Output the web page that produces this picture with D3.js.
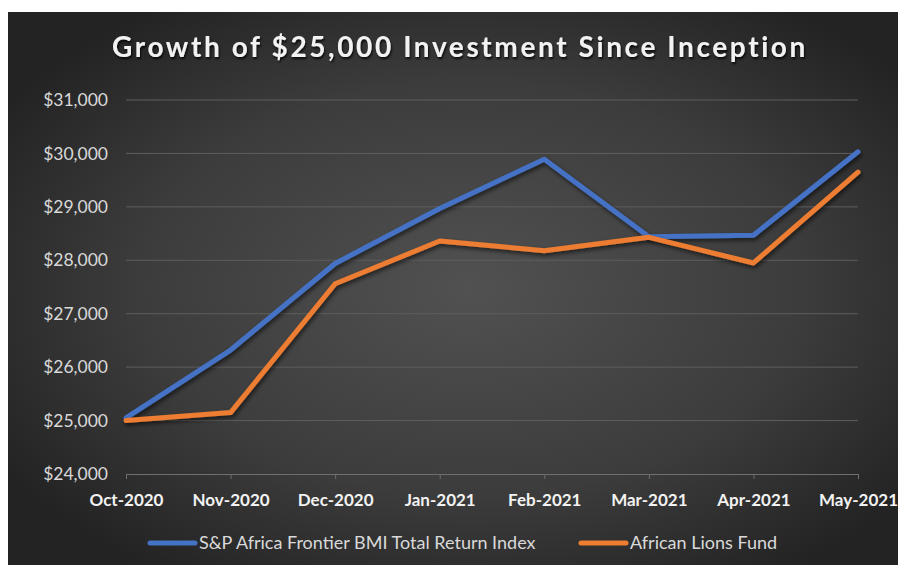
<!DOCTYPE html>
<html>
<head>
<meta charset="utf-8">
<script src="https://cdn.jsdelivr.net/npm/d3@7"></script>
<style>
  body { margin: 0; background: #fff; }
  text { font-family: Lato, "Open Sans", sans-serif; }
</style>
</head>
<body>
<div id="chart"></div>
<script>
const months = ["Oct-2020", "Nov-2020", "Dec-2020", "Jan-2021", "Feb-2021", "Mar-2021", "Apr-2021", "May-2021"];
const spAfrica = [25050, 26320, 27940, 28970, 29890, 28440, 28470, 30030];
const lionsFund = [25000, 25150, 27560, 28360, 28180, 28430, 27950, 29650];
const yTicks = [24000, 25000, 26000, 27000, 28000, 29000, 30000, 31000];
const seriesNames = ["S&P Africa Frontier BMI Total Return Index", "African Lions Fund"];
const colors = ["#4472c4", "#ed7d31"];

const W = 900, H = 567;
const svg = d3.select("#chart").append("svg")
    .attr("width", W)
    .attr("height", H);

const defs = svg.append("defs");
const grad = defs.append("radialGradient")
    .attr("id", "bg")
    .attr("cx", "52%").attr("cy", "50%").attr("r", "62%");
grad.append("stop").attr("offset", "0%").attr("stop-color", "#515151");
grad.append("stop").attr("offset", "60%").attr("stop-color", "#3c3c3c");
grad.append("stop").attr("offset", "100%").attr("stop-color", "#232323");

const shadow = defs.append("filter").attr("id", "shadow")
    .attr("x", "-10%").attr("y", "-10%").attr("width", "120%").attr("height", "130%");
shadow.append("feDropShadow")
    .attr("dx", 1.5).attr("dy", 2.5).attr("stdDeviation", 2)
    .attr("flood-color", "#000").attr("flood-opacity", 0.6);

const tshadow = defs.append("filter").attr("id", "tshadow");
tshadow.append("feDropShadow")
    .attr("dx", 1).attr("dy", 2).attr("stdDeviation", 1.2)
    .attr("flood-color", "#000").attr("flood-opacity", 0.8);

// panel
svg.append("rect")
    .attr("x", 8).attr("y", 12)
    .attr("width", 890).attr("height", 553)
    .attr("fill", "url(#bg)");

const x = d3.scalePoint()
    .domain(months)
    .range([126, 858]);

const y = d3.scaleLinear()
    .domain([24000, 31000])
    .range([474, 100]);

// gridlines
svg.append("g").selectAll("line")
    .data(yTicks.slice(1))
    .join("line")
    .attr("x1", 126).attr("x2", 858)
    .attr("y1", d => y(d)).attr("y2", d => y(d))
    .attr("stroke", "#5e5e5e")
    .attr("stroke-width", 1);

// y axis labels
svg.append("g").selectAll("text")
    .data(yTicks)
    .join("text")
    .attr("x", 108)
    .attr("y", d => y(d))
    .attr("dy", "0.35em")
    .attr("text-anchor", "end")
    .attr("fill", "#d9d9d9")
    .attr("font-size", 17.5)
    .text(d => "$" + d3.format(",")(d));

// x axis
const xAxis = svg.append("g")
    .attr("transform", `translate(0,${y(24000)})`)
    .call(d3.axisBottom(x).tickSize(5).tickPadding(15));
xAxis.select(".domain").attr("stroke", "#6f6f6f");
xAxis.selectAll(".tick line").attr("stroke", "#6f6f6f");
xAxis.selectAll(".tick text")
    .attr("fill", "#f2f2f2")
    .attr("font-size", 17)
    .attr("font-weight", "bold")
    .attr("font-family", "Lato, sans-serif");

// lines
const line = d3.line()
    .x((d, i) => x(months[i]))
    .y(d => y(d));

[spAfrica, lionsFund].forEach((vals, i) => {
  svg.append("path")
    .datum(vals)
    .attr("d", line)
    .attr("fill", "none")
    .attr("stroke", colors[i])
    .attr("stroke-width", 5)
    .attr("stroke-linejoin", "round")
    .attr("stroke-linecap", "round")
    .attr("filter", "url(#shadow)");
});

// title
svg.append("text")
    .attr("x", 460)
    .attr("y", 57)
    .attr("text-anchor", "middle")
    .attr("fill", "#f2f2f2")
    .attr("font-size", 28)
    .attr("font-weight", "bold")
    .attr("letter-spacing", 2.6)
    .attr("filter", "url(#tshadow)")
    .text("Growth of $25,000 Investment Since Inception");

// legend
const legendX = [150, 581];
const legend = svg.append("g").selectAll("g")
    .data(seriesNames)
    .join("g")
    .attr("transform", (d, i) => `translate(${legendX[i]},543)`);
legend.append("line")
    .attr("x1", 0).attr("x2", 45)
    .attr("stroke", (d, i) => colors[i])
    .attr("stroke-width", 5)
    .attr("stroke-linecap", "round");
legend.append("text")
    .attr("x", 49)
    .attr("dy", "0.35em")
    .attr("fill", "#d9d9d9")
    .attr("font-size", 18)
    .text(d => d);
</script>
</body>
</html>
